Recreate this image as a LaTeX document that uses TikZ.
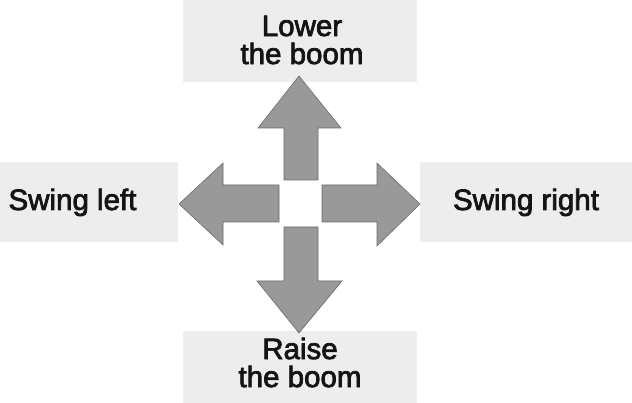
\documentclass[tikz,border=0pt]{standalone}
\usepackage{fontspec}
\setmainfont{Liberation Sans}
\newfontfamily\lblfont[FakeBold=2.5]{Liberation Sans}
\begin{document}
\begin{tikzpicture}[x=1pt,y=-1pt,
  bgbox/.style={fill=black!7,draw=none},
  arrowshape/.style={fill=black!40,draw=black!58,line width=0.6pt,line join=miter},
  lbl/.style={inner sep=0pt,align=center,font=\lblfont\fontsize{29.5}{28}\selectfont,text=black!92}]
\useasboundingbox (0,0) rectangle (632,403);
% background patches
\fill[bgbox] (183,0) rectangle (417,82);
\fill[bgbox] (183,331) rectangle (417,403);
\fill[bgbox] (0,162) rectangle (178,242);
\fill[bgbox] (420,162) rectangle (632,242);
% arrows
\draw[arrowshape] (284,180) -- (284,128) -- (258,128) -- (299,76) -- (341,128) -- (318,128) -- (318,180) -- cycle;
\draw[arrowshape] (284,227) -- (284,281) -- (257,281) -- (299,333) -- (342,281) -- (318,281) -- (318,227) -- cycle;
\draw[arrowshape] (279,185) -- (223,185) -- (223,163) -- (179,204) -- (223,245) -- (223,222) -- (279,222) -- cycle;
\draw[arrowshape] (322,185) -- (377,185) -- (377,163) -- (420,204) -- (377,246) -- (377,222) -- (322,222) -- cycle;
% labels
\node[lbl] (lower) at (302,40) {Lower\\the boom};
\node[lbl] (raise) at (300,362.5) {Raise\\the boom};
\node[lbl,anchor=base] (left) at (72.5,210) {Swing left};
\node[lbl,anchor=base] (right) at (526,210) {Swing right};
\end{tikzpicture}
\end{document}
